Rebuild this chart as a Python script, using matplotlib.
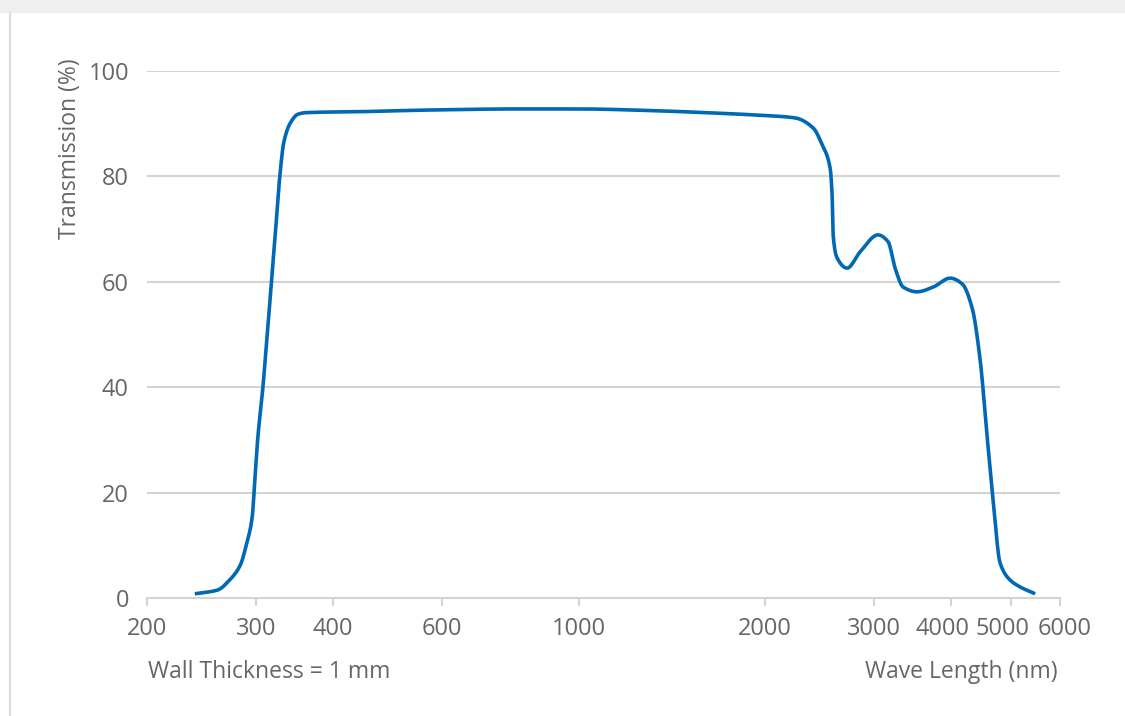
import matplotlib
matplotlib.use('Agg')
import numpy as np
import matplotlib.pyplot as plt
from matplotlib.patches import Rectangle
from matplotlib.lines import Line2D
from matplotlib.ticker import FixedLocator, NullLocator
from matplotlib.transforms import ScaledTranslation

# transmission curve
wavelength = [239, 260, 272, 283, 290, 296, 298, 302, 308, 313, 318, 323, 328,
              333, 341, 351, 362, 450, 574, 800, 1000, 1300, 1600, 1963, 2236,
              2392, 2474, 2548, 2567, 2577, 2616, 2715, 2850, 3046, 3163,
              3246, 3345, 3524, 3740, 3986, 4168, 4326, 4456, 4574, 4676,
              4801, 4983, 5171, 5469]
transmission = [0.8, 1.5, 3.4, 6.2, 10.4, 15.4, 20.0, 30.0, 40.0, 50.0, 60.0,
                70.0, 80.0, 86.5, 90.1, 91.8, 92.1, 92.3, 92.6, 92.8, 92.8,
                92.5, 92.1, 91.6, 91.1, 89.2, 86.0, 81.6, 76.5, 68.9, 64.5,
                62.6, 65.7, 68.9, 67.6, 62.6, 59.0, 58.1, 59.0, 60.7, 59.6,
                55.0, 45.2, 30.6, 18.6, 6.6, 3.4, 2.1, 0.8]

x_ticks = [200, 300, 400, 600, 1000, 2000, 3000, 4000, 5000, 6000]
y_ticks = [0, 20, 40, 60, 80, 100]

text_color = '#666666'
grid_color = '#d4d4d4'
line_color = '#0068b5'


def smooth(xs, ys, n=20):
    # monotone cubic (Fritsch-Carlson) through the read points, in log-x space
    x = np.log10(np.asarray(xs, float))
    y = np.asarray(ys, float)
    h = np.diff(x)
    d = np.diff(y) / h
    m = np.zeros_like(y)
    m[0], m[-1] = d[0], d[-1]
    for i in range(1, len(y) - 1):
        if d[i - 1] * d[i] > 0:
            w1 = 2 * h[i] + h[i - 1]
            w2 = h[i] + 2 * h[i - 1]
            m[i] = (w1 + w2) / (w1 / d[i - 1] + w2 / d[i])
    out_x, out_y = [], []
    for i in range(len(h)):
        t = np.linspace(0, 1, n, endpoint=False)
        h00 = 2 * t**3 - 3 * t**2 + 1
        h10 = t**3 - 2 * t**2 + t
        h01 = -2 * t**3 + 3 * t**2
        h11 = t**3 - t**2
        out_x.append(x[i] + t * h[i])
        out_y.append(h00 * y[i] + h10 * h[i] * m[i] + h01 * y[i + 1] + h11 * h[i] * m[i + 1])
    out_x.append([x[-1]])
    out_y.append([y[-1]])
    return 10 ** np.concatenate(out_x), np.concatenate(out_y)


plt.rcParams['font.family'] = ['Open Sans', 'DejaVu Sans']

fig = plt.figure(figsize=(11.25, 7.16), dpi=100)
W, H = 1125, 716

# page decoration: grey band on top, thin line on the left
fig.patches.append(Rectangle((0, 1 - 12 / H), 1, 12 / H, transform=fig.transFigure,
                             color='#efefef', zorder=0))
fig.lines.append(Line2D([10 / W, 10 / W], [0, 1 - 13 / H], transform=fig.transFigure,
                        color='#dcdcdc', linewidth=1.5))

ax = fig.add_axes([147 / W, 1 - 598 / H, (1060 - 147) / W, (598 - 71) / H])
ax.set_xscale('log')
ax.set_xlim(200, 6000)
ax.set_ylim(0, 100)

sx, sy = smooth(wavelength, transmission)
ax.plot(sx, sy, color=line_color, linewidth=2.6,
        solid_joinstyle='round', solid_capstyle='butt', clip_on=False, zorder=3)

ax.xaxis.set_major_locator(FixedLocator(x_ticks))
ax.xaxis.set_minor_locator(NullLocator())
ax.set_xticklabels([str(t) for t in x_ticks])
ax.set_yticks(y_ticks)
ax.set_yticklabels([str(t) for t in y_ticks])

for y in y_ticks[1:]:
    ax.axhline(y, color=grid_color, linewidth=1.5, zorder=1)

for s in ['top', 'right', 'left']:
    ax.spines[s].set_visible(False)
ax.spines['bottom'].set_color(grid_color)
ax.spines['bottom'].set_linewidth(1.5)

ax.tick_params(axis='x', length=6, width=1.5, color=grid_color, labelcolor=text_color,
               labelsize=17, pad=8)
ax.tick_params(axis='y', length=0, labelcolor=text_color, labelsize=17, pad=13)

# crowded labels at the right end are nudged like in the original
nudge = {4000: -9, 5000: -9, 6000: 5}
for t, lab in zip(x_ticks, ax.get_xticklabels()):
    if t in nudge:
        lab.set_transform(lab.get_transform() +
                          ScaledTranslation(nudge[t] / 100, 0, fig.dpi_scale_trans))

fig.text(70 / W, 1 - 58 / H, 'Transmission (%)', rotation=90, ha='center', va='top',
         color=text_color, fontsize=16.5)
fig.text(148 / W, 1 - 672 / H, 'Wall Thickness = 1 mm', ha='left', va='center',
         color=text_color, fontsize=16.5)
fig.text(1058 / W, 1 - 672 / H, 'Wave Length (nm)', ha='right', va='center',
         color=text_color, fontsize=16.5)

fig.savefig('out.png', dpi=100)
